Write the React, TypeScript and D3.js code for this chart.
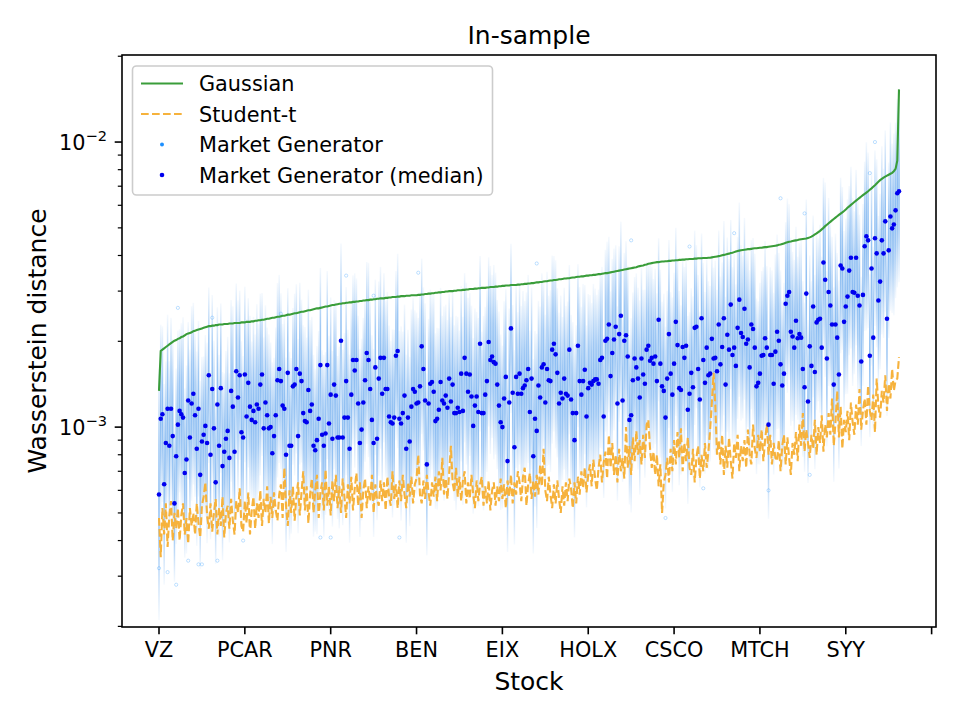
import { useEffect, useRef } from "react";
import * as d3 from "d3";

// all distances below are in units of 1e-5
const tickNames = ["VZ", "PCAR", "PNR", "BEN", "EIX", "HOLX", "CSCO", "MTCH", "SYY", ""];

const gaussian = [
  134,185,187,189,191,193,195,197,199,201, 202,204,205,207,208,210,212,213,214,215,
  217,218,219,220,221,222,223,224,225,226, 226,227,227,228,228,229,229,229,230,230,
  230,231,231,231,232,232,232,232,233,233, 233,234,234,234,235,235,236,236,237,237,
  238,238,239,240,240,241,242,242,243,244, 244,245,246,246,247,248,248,249,250,251,
  251,252,253,254,254,255,256,257,257,258, 259,260,261,261,262,263,264,265,265,266,
  267,268,268,269,270,271,271,272,272,273, 273,274,274,275,275,276,276,277,277,278,
  278,279,279,280,280,281,281,282,282,283, 283,283,284,284,285,285,286,286,286,287,
  287,288,288,288,289,289,289,290,290,290, 290,291,291,292,292,293,293,294,294,295,
  295,296,296,297,297,298,298,299,299,300, 300,300,301,301,302,302,302,303,303,304,
  304,305,305,305,306,306,307,307,308,308, 308,309,309,310,310,310,311,311,312,312,
  313,313,314,314,314,315,315,315,315,316, 316,317,317,318,318,319,319,320,320,321,
  322,322,323,323,324,325,325,326,327,327, 328,328,329,330,330,331,332,332,333,333,
  334,335,335,336,337,337,338,338,339,340, 340,341,341,342,342,343,344,344,345,346,
  347,347,348,349,350,351,352,353,354,355, 356,357,358,359,360,361,362,363,364,366,
  367,368,369,371,372,374,375,376,377,378, 379,379,380,381,381,382,382,383,383,384,
  384,385,385,386,386,387,387,388,388,389, 389,389,390,390,391,391,391,392,392,392,
  393,393,394,395,396,397,398,399,401,402, 403,405,406,408,409,411,413,415,416,417,
  418,419,420,421,421,422,423,424,424,425, 426,426,427,428,428,429,430,431,432,433,
  434,436,437,439,441,443,445,447,448,450, 451,452,453,455,456,457,458,459,461,463,
  466,470,474,478,483,488,494,500,507,513, 519,525,531,537,543,549,555,561,567,573,
  580,588,595,602,609,616,623,630,637,644, 651,658,665,672,680,688,697,706,716,726,
  735,743,750,756,762,768,774,780,790,805,860,1530,
];

const studentT = [
  48,35,52,42,54,38,49,55,40,50, 44,52,40,49,54,42,48,39,52,45,
  50,42,54,46,41,53,57,64,49,44, 54,43,50,56,42,52,45,57,41,50,
  53,44,56,47,42,55,50,61,45,43, 55,46,59,42,51,57,44,54,48,60,
  45,56,50,62,46,57,48,59,51,47, 58,63,48,72,53,45,60,50,62,47,
  57,64,49,59,70,51,62,46,58,66, 50,60,68,48,59,64,51,71,53,62,
  49,65,55,68,52,62,50,66,57,48, 63,54,67,51,61,69,53,64,48,60,
  66,52,62,55,68,50,63,56,53,65, 55,64,51,67,57,53,70,56,63,52,
  65,55,68,58,52,64,57,67,54,63, 66,80,58,54,65,56,68,59,53,64,
  57,67,55,70,60,78,58,66,56,69, 86,64,59,72,57,67,55,65,70,54,
  64,56,68,58,52,65,55,63,67,53, 62,54,65,51,60,64,53,62,55,66,
  56,63,52,65,57,68,54,64,58,70, 64,55,67,72,53,63,69,56,65,57,
  68,58,74,62,84,60,55,67,58,52, 63,54,65,56,50,62,53,64,55,66,
  61,52,64,54,67,58,70,61,72,59, 68,74,62,77,66,60,72,80,64,75,
  82,66,94,72,88,68,80,64,84,70, 78,66,100,72,86,68,92,76,97,80,
  90,74,94,78,102,106,84,72,82,68, 80,62,74,50,64,68,78,64,84,70,
  90,74,96,78,99,70,88,76,92,72, 68,84,64,78,86,66,80,70,88,72,
  82,98,122,155,120,80,90,74,94,68, 86,72,92,76,66,88,78,94,70,86,
  76,90,72,98,80,74,102,84,78,94, 82,98,76,90,102,80,94,74,88,78,
  76,90,70,86,94,74,92,78,68,88, 80,96,76,102,86,112,82,98,88,78,
  94,84,106,80,100,88,110,82,102,92, 112,94,126,86,104,134,92,118,84,106,
  96,114,90,122,104,94,120,102,136,98, 114,126,102,140,114,106,130,96,148,118,
  108,134,122,152,114,142,126,160,134,146,148,176,
];

const mgMedian = [
  58,107,111,63,88,116,86,116,93,54, 79,102,114,111,108,69,77,124,92,121,
  131,110,84,116,68,89,94,101,88,152, 80,136,99,64,120,86,137,73,82,91,
  97,78,134,118,82,157,127,152,96,92, 153,109,
  143,118,106,114,104,120,116,141,153,99, 122,110,99,100,81,93,110,146,160,145,
  119,116,80,155,86,86,139,141,160,93, 154,145,112,105,104,135,114,120,86,83,
  90,107,165,94,86,95,165,103,130,
  91,141,129,92,92,201,92,108,145,108, 84,130,172,158,172,121,88,98,122,146,
  182,172,136,106,88,162,91,148,175,131, 175,136,136,109,104,103,108,178,185,107,
  103,112,129,84,108,89,118,136,133,121, 122,139,192,
  160,124,74,121,142,144,133,105,107,115, 144,124,121,129,117,148,123,141,112,112,
  117,113,154,114,175,154,133,153,128,101, 119,128,113,196,112,112,130,145,199,172,
  177,169,167,141,119,104,100,126,150,76, 122,222,132,85,
  150,131,154,131,137,140,146,160,113,148, 79,107,97,140,127,162,166,122,160,146,
  145,187,196,180,155,121,132,126,148,131, 129,187,125,112,90,112,193,145,130,145,
  159,109,137,143,141,145,147,147,142,172, 175,109,201,
  204,229,151,182,203,225,121,212,246,124, 201,210,177,106,110,146,174,162,148,127,
  174,153,142,187,193,171,175,167,177,145, 238,167,139,134,108,148,212,154,130,167,
  234,194,137,135,191,175,193,115,131,155, 138,223,
  225,160,125,241,172,143,190,152,154,204, 174,175,157,229,166,191,241,141,211,187,
  269,179,190,164,223,280,214,207,260,196, 203,162,229,221,190,139,143,154,178,179,
  205,190,102,179,179,142,184,216,201,166, 140,154,271,
  289,298,216,208,190,236,205,212,206,160, 138,294,123,192,164,265,156,233,238,240,
  190,378,329,174,298,267,229,141,229,206, 153,369,360,234,265,287,354,393,298,296,
  393,289,267,170,291,431,467,452,178,360, 206,460,407,278,324,452,407,527,240,417,
  548,498,514,576,661,672,
];

// half height of each stock's sample cloud, hundredths of a decade
const mgSpread = [
  40,30,28,32,26,30,27,29,31,25, 28,30,26,29,32,27,30,25,28,31, 29,26,31,28,30,27,25,29,32,28,
  27,30,28,26,31,29,27,30,25,28, 30,27,29,32,26,28,31,27,29,26, 28,31,27,29,25,30,28,32,27,29,
  26,29,31,28,30,27,29,25,28,31, 30,28,26,29,31,27,30,28,25,29, 27,31,29,26,28,30,27,32,29,28,
  29,26,30,28,31,27,29,26,30,28, 31,28,27,30,26,29,31,28,27,30, 28,30,29,27,31,26,28,30,29,27,
  26,29,31,28,27,30,28,26,31,29, 30,27,28,31,29,26,30,28,27,31, 28,31,26,29,30,28,27,31,29,26,
  29,27,30,28,26,31,29,27,30,28, 31,28,29,26,30,27,31,29,28,27, 27,30,28,31,29,26,28,30,27,29,
  30,26,29,28,31,27,30,28,26,31, 28,29,27,30,26,31,29,27,30,28, 26,31,28,29,30,27,28,31,29,26,
  29,28,31,27,28,30,26,29,31,28, 31,27,29,30,26,28,31,27,29,30, 28,30,27,29,31,26,29,28,30,27,
  27,29,31,28,26,30,28,31,27,29, 30,28,26,31,29,27,30,28,29,26, 29,31,28,27,30,29,26,31,28,30,
  26,28,30,29,27,31,28,26,30,29, 31,29,27,30,28,26,31,29,27,28, 28,26,30,27,31,29,28,30,26,31,
  29,30,28,31,27,28,29,27,30,26, 27,29,31,26,30,28,27,31,29,28, 30,28,27,29,31,26,30,28,27,31,
  28,31,29,27,28,30,26,29,31,28, 26,29,30,28,31,27,29,30,28,26, 29,27,28,31,26,30,28,27,29,31,
  31,28,30,27,29,26,31,28,30,27, 28,30,26,29,31,28,27,30,26,29, 27,29,31,28,26,30,29,27,31,28,
  30,26,28,31,29,27,30,28,26,29, 28,31,27,29,30,26,28,31,29,27, 29,27,30,28,26,31,29,28,30,27,
  28,30,27,29,31,28,30,27,29,28, 30,29,
];

// stray samples far from their stock's cloud
const outlierIdx = [11, 31, 0, 5, 10, 17, 23, 34, 25, 71, 49, 100, 94, 109, 151, 125, 140, 220, 275, 309, 295, 335, 317, 355, 417, 414, 362, 376, 379];
const outlierVal = [262, 242, 32, 31, 28, 34, 33, 34, 33, 250, 40, 41, 41, 340, 348, 289, 41, 375, 452, 430, 48, 479, 61, 60, 1000, 778, 635, 562, 68];

const W = 960;
const H = 720;
const L = 122;
const R = 936;
const T = 55;
const B = 627;
const FONT = "DejaVu Sans, Bitstream Vera Sans, sans-serif";
const U = 1e-5;
const CLOUD_REACH = 1.1; // cloud tails reach a little beyond the spread

export default function App() {
  const ref = useRef<SVGSVGElement>(null);

  useEffect(() => {
    if (!ref.current) return;
    const svg = d3.select(ref.current);
    svg.selectAll("*").remove();

    const n = mgMedian.length;
    const x = d3
      .scaleLinear()
      .domain([-0.05 * (n - 1), 1.05 * (n - 1)])
      .range([L, R]);
    const y = d3.scaleLog().domain([0.000199, 0.0202]).range([B, T]);

    const defs = svg.append("defs");
    defs
      .append("clipPath")
      .attr("id", "plotclip")
      .append("rect")
      .attr("x", L)
      .attr("y", T)
      .attr("width", R - L)
      .attr("height", B - T);
    const grad = defs
      .append("linearGradient")
      .attr("id", "cloudgrad")
      .attr("x1", 0)
      .attr("y1", 0)
      .attr("x2", 0)
      .attr("y2", 1);
    [
      [0, 0.05],
      [0.12, 0.22],
      [0.3, 0.48],
      [0.5, 0.6],
      [0.7, 0.48],
      [0.88, 0.22],
      [1, 0.05],
    ].forEach(([o, a]) =>
      grad
        .append("stop")
        .attr("offset", o)
        .attr("stop-color", "#3a8ee8")
        .attr("stop-opacity", a),
    );

    svg.append("rect").attr("width", W).attr("height", H).attr("fill", "#fff");

    const plot = svg.append("g").attr("clip-path", "url(#plotclip)");

    const top = (d: number, i: number) =>
      y(d * U * Math.pow(10, (CLOUD_REACH * mgSpread[i]) / 100));
    const bot = (d: number, i: number) =>
      y(d * U / Math.pow(10, (CLOUD_REACH * mgSpread[i]) / 100));

    // sample cloud of the market generator
    plot
      .selectAll("rect.cloud")
      .data(mgMedian)
      .enter()
      .append("rect")
      .attr("class", "cloud")
      .attr("x", (_, i) => x(i) - 0.75)
      .attr("width", 1.5)
      .attr("y", (d, i) => top(d, i))
      .attr("height", (d, i) => bot(d, i) - top(d, i))
      .attr("fill", "url(#cloudgrad)");

    plot
      .selectAll("circle.out")
      .data(outlierIdx)
      .enter()
      .append("circle")
      .attr("cx", (d) => x(d))
      .attr("cy", (_, i) => y(outlierVal[i] * U))
      .attr("r", 1.6)
      .attr("fill", "none")
      .attr("stroke", "#1e90ff")
      .attr("stroke-opacity", 0.35)
      .attr("stroke-width", 0.8);

    const line = d3
      .line<number>()
      .x((_, i) => x(i))
      .y((d) => y(d * U));

    plot
      .append("path")
      .attr("d", line(gaussian))
      .attr("fill", "none")
      .attr("stroke", "#3a9d3a")
      .attr("stroke-width", 2.1);

    plot
      .append("path")
      .attr("d", line(studentT))
      .attr("fill", "none")
      .attr("stroke", "#f6b23c")
      .attr("stroke-width", 2.1)
      .attr("stroke-dasharray", "7.7,3.3");

    plot
      .selectAll("circle.med")
      .data(mgMedian)
      .enter()
      .append("circle")
      .attr("cx", (_, i) => x(i))
      .attr("cy", (d) => y(d * U))
      .attr("r", 2.3)
      .attr("fill", "#0000ee");

    // frame
    svg
      .append("rect")
      .attr("x", L)
      .attr("y", T)
      .attr("width", R - L)
      .attr("height", B - T)
      .attr("fill", "none")
      .attr("stroke", "#000")
      .attr("stroke-width", 1.6);

    // x ticks
    const xt = svg.append("g");
    d3.range(0, 451, 50).forEach((t, k) => {
      xt.append("line")
        .attr("x1", x(t))
        .attr("x2", x(t))
        .attr("y1", B)
        .attr("y2", B + 7.3)
        .attr("stroke", "#000")
        .attr("stroke-width", 1.6);
      xt.append("text")
        .attr("x", x(t))
        .attr("y", B + 30)
        .attr("text-anchor", "middle")
        .attr("font-family", FONT)
        .attr("font-size", 20.8)
        .text(tickNames[k]);
    });

    // y ticks
    const yt = svg.append("g");
    const [lo, hi] = y.domain();
    [-4, -3, -2].forEach((e) => {
      d3.range(1, 10).forEach((k) => {
        const v = k * Math.pow(10, e);
        if (v < lo || v > hi) return;
        const major = k === 1;
        yt.append("line")
          .attr("x1", L)
          .attr("x2", L - (major ? 7.3 : 4.2))
          .attr("y1", y(v))
          .attr("y2", y(v))
          .attr("stroke", "#000")
          .attr("stroke-width", major ? 1.6 : 1.2);
        if (major) {
          const tx = yt
            .append("text")
            .attr("x", L - 15)
            .attr("y", y(v) + 7.5)
            .attr("text-anchor", "end")
            .attr("font-family", FONT)
            .attr("font-size", 20.8);
          tx.append("tspan").text("10");
          tx.append("tspan")
            .attr("dy", -9)
            .attr("font-size", 14.6)
            .text(`\u2212${-e}`);
        }
      });
    });

    // labels
    svg
      .append("text")
      .attr("x", (L + R) / 2)
      .attr("y", 44)
      .attr("text-anchor", "middle")
      .attr("font-family", FONT)
      .attr("font-size", 25)
      .text("In-sample");
    svg
      .append("text")
      .attr("x", (L + R) / 2)
      .attr("y", 690)
      .attr("text-anchor", "middle")
      .attr("font-family", FONT)
      .attr("font-size", 25)
      .text("Stock");
    svg
      .append("text")
      .attr("transform", `translate(46,${(T + B) / 2}) rotate(-90)`)
      .attr("text-anchor", "middle")
      .attr("font-family", FONT)
      .attr("font-size", 25)
      .text("Wasserstein distance");

    // legend
    const lg = svg.append("g");
    lg.append("rect")
      .attr("x", 132.5)
      .attr("y", 66)
      .attr("width", 360)
      .attr("height", 129)
      .attr("rx", 4)
      .attr("fill", "#fff")
      .attr("fill-opacity", 0.8)
      .attr("stroke", "#cccccc")
      .attr("stroke-width", 1.6);
    const rows = [
      { label: "Gaussian", kind: "line" },
      { label: "Student-t", kind: "dash" },
      { label: "Market Generator", kind: "dot" },
      { label: "Market Generator (median)", kind: "med" },
    ];
    rows.forEach((r, k) => {
      const cy = 83.5 + k * 30.5;
      if (r.kind === "line" || r.kind === "dash") {
        lg.append("line")
          .attr("x1", 141)
          .attr("x2", 183)
          .attr("y1", cy)
          .attr("y2", cy)
          .attr("stroke", r.kind === "line" ? "#3a9d3a" : "#f6b23c")
          .attr("stroke-width", 2.1)
          .attr("stroke-dasharray", r.kind === "dash" ? "7.7,3.3" : null);
      } else {
        lg.append("circle")
          .attr("cx", 162)
          .attr("cy", cy)
          .attr("r", r.kind === "dot" ? 2 : 2.3)
          .attr("fill", r.kind === "dot" ? "#1e90ff" : "#0000ee");
      }
      lg.append("text")
        .attr("x", 199)
        .attr("y", cy + 7.5)
        .attr("font-family", FONT)
        .attr("font-size", 20.8)
        .text(r.label);
    });
  }, []);

  return (
    <svg
      ref={ref}
      width={W}
      height={H}
      style={{ position: "absolute", left: 0, top: 0 }}
    />
  );
}
